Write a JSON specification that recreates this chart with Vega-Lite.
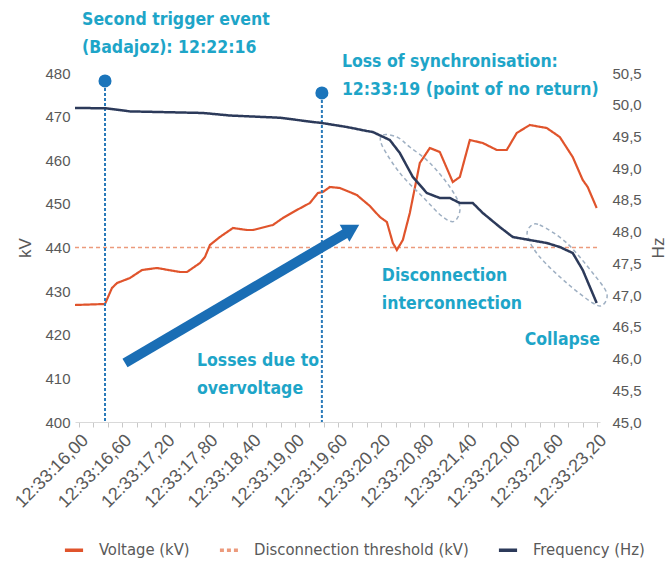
{
  "$schema": "https://vega.github.io/schema/vega-lite/v6.json",
  "width": 525,
  "height": 349,
  "autosize": {"type": "none"},
  "padding": {"left": 75, "top": 73, "right": 69, "bottom": 142},
  "background": "white",
  "config": {"view": {"stroke": null}, "font": "Liberation Sans"},
  "datasets": {
    "volt": [
      {"t": 15.944, "v": 426.82, "series": "Voltage (kV)"},
      {"t": 16.361, "v": 427.05, "series": "Voltage (kV)"},
      {"t": 16.458, "v": 430.72, "series": "Voltage (kV)"},
      {"t": 16.528, "v": 431.86, "series": "Voltage (kV)"},
      {"t": 16.708, "v": 433.01, "series": "Voltage (kV)"},
      {"t": 16.875, "v": 434.84, "series": "Voltage (kV)"},
      {"t": 17.083, "v": 435.30, "series": "Voltage (kV)"},
      {"t": 17.403, "v": 434.38, "series": "Voltage (kV)"},
      {"t": 17.5, "v": 434.38, "series": "Voltage (kV)"},
      {"t": 17.681, "v": 436.45, "series": "Voltage (kV)"},
      {"t": 17.75, "v": 437.82, "series": "Voltage (kV)"},
      {"t": 17.819, "v": 440.57, "series": "Voltage (kV)"},
      {"t": 17.958, "v": 442.41, "series": "Voltage (kV)"},
      {"t": 18.139, "v": 444.47, "series": "Voltage (kV)"},
      {"t": 18.333, "v": 444.01, "series": "Voltage (kV)"},
      {"t": 18.417, "v": 444.01, "series": "Voltage (kV)"},
      {"t": 18.694, "v": 445.16, "series": "Voltage (kV)"},
      {"t": 18.833, "v": 446.76, "series": "Voltage (kV)"},
      {"t": 19.028, "v": 448.60, "series": "Voltage (kV)"},
      {"t": 19.208, "v": 450.20, "series": "Voltage (kV)"},
      {"t": 19.319, "v": 452.49, "series": "Voltage (kV)"},
      {"t": 19.389, "v": 452.72, "series": "Voltage (kV)"},
      {"t": 19.486, "v": 453.87, "series": "Voltage (kV)"},
      {"t": 19.625, "v": 453.64, "series": "Voltage (kV)"},
      {"t": 19.861, "v": 452.03, "series": "Voltage (kV)"},
      {"t": 20.042, "v": 449.51, "series": "Voltage (kV)"},
      {"t": 20.181, "v": 446.99, "series": "Voltage (kV)"},
      {"t": 20.278, "v": 445.84, "series": "Voltage (kV)"},
      {"t": 20.361, "v": 441.03, "series": "Voltage (kV)"},
      {"t": 20.417, "v": 439.43, "series": "Voltage (kV)"},
      {"t": 20.5, "v": 441.72, "series": "Voltage (kV)"},
      {"t": 20.597, "v": 447.91, "series": "Voltage (kV)"},
      {"t": 20.736, "v": 459.37, "series": "Voltage (kV)"},
      {"t": 20.875, "v": 462.81, "series": "Voltage (kV)"},
      {"t": 21.014, "v": 461.89, "series": "Voltage (kV)"},
      {"t": 21.194, "v": 455.01, "series": "Voltage (kV)"},
      {"t": 21.292, "v": 456.16, "series": "Voltage (kV)"},
      {"t": 21.431, "v": 464.64, "series": "Voltage (kV)"},
      {"t": 21.611, "v": 463.95, "series": "Voltage (kV)"},
      {"t": 21.806, "v": 462.35, "series": "Voltage (kV)"},
      {"t": 21.944, "v": 462.35, "series": "Voltage (kV)"},
      {"t": 22.083, "v": 466.25, "series": "Voltage (kV)"},
      {"t": 22.264, "v": 468.08, "series": "Voltage (kV)"},
      {"t": 22.5, "v": 467.39, "series": "Voltage (kV)"},
      {"t": 22.681, "v": 465.33, "series": "Voltage (kV)"},
      {"t": 22.861, "v": 460.74, "series": "Voltage (kV)"},
      {"t": 23.0, "v": 455.47, "series": "Voltage (kV)"},
      {"t": 23.069, "v": 453.87, "series": "Voltage (kV)"},
      {"t": 23.194, "v": 449.05, "series": "Voltage (kV)"}
    ],
    "thr": [
      {"t": 15.944, "v": 440, "series": "Disconnection threshold (kV)"},
      {"t": 23.24, "v": 440, "series": "Disconnection threshold (kV)"}
    ],
    "hz": [
      {"t": 15.944, "f": 49.948, "series": "Frequency (Hz)"},
      {"t": 16.361, "f": 49.945, "series": "Frequency (Hz)"},
      {"t": 16.708, "f": 49.895, "series": "Frequency (Hz)"},
      {"t": 17.722, "f": 49.870, "series": "Frequency (Hz)"},
      {"t": 18.097, "f": 49.830, "series": "Frequency (Hz)"},
      {"t": 18.792, "f": 49.795, "series": "Frequency (Hz)"},
      {"t": 19.25, "f": 49.728, "series": "Frequency (Hz)"},
      {"t": 19.375, "f": 49.712, "series": "Frequency (Hz)"},
      {"t": 19.722, "f": 49.649, "series": "Frequency (Hz)"},
      {"t": 20.0, "f": 49.586, "series": "Frequency (Hz)"},
      {"t": 20.083, "f": 49.570, "series": "Frequency (Hz)"},
      {"t": 20.319, "f": 49.444, "series": "Frequency (Hz)"},
      {"t": 20.458, "f": 49.239, "series": "Frequency (Hz)"},
      {"t": 20.639, "f": 48.861, "series": "Frequency (Hz)"},
      {"t": 20.833, "f": 48.609, "series": "Frequency (Hz)"},
      {"t": 21.014, "f": 48.530, "series": "Frequency (Hz)"},
      {"t": 21.153, "f": 48.530, "series": "Frequency (Hz)"},
      {"t": 21.292, "f": 48.451, "series": "Frequency (Hz)"},
      {"t": 21.472, "f": 48.451, "series": "Frequency (Hz)"},
      {"t": 21.611, "f": 48.294, "series": "Frequency (Hz)"},
      {"t": 21.847, "f": 48.073, "series": "Frequency (Hz)"},
      {"t": 22.028, "f": 47.915, "series": "Frequency (Hz)"},
      {"t": 22.264, "f": 47.868, "series": "Frequency (Hz)"},
      {"t": 22.5, "f": 47.821, "series": "Frequency (Hz)"},
      {"t": 22.681, "f": 47.758, "series": "Frequency (Hz)"},
      {"t": 22.861, "f": 47.663, "series": "Frequency (Hz)"},
      {"t": 23.0, "f": 47.395, "series": "Frequency (Hz)"},
      {"t": 23.194, "f": 46.875, "series": "Frequency (Hz)"}
    ],
    "vlines": [
      {"t": 16.361, "v": 476.56, "v0": 400, "c": 478.17},
      {"t": 19.375, "v": 473.81, "v0": 400, "c": 475.42}
    ],
    "arrow": [
      {"t": 16.639, "v": 413.52, "t2": 19.736, "v2": 443.55, "th": 19.792, "vh": 444.24}
    ],
    "labels": [
      {"t": 16.042, "v": 492.15, "txt": "Second trigger event"},
      {"t": 16.042, "v": 485.73, "txt": "(Badajoz): 12:22:16"},
      {"t": 19.653, "v": 482.52, "txt": "Loss of synchronisation:"},
      {"t": 19.653, "v": 476.10, "txt": "12:33:19 (point of no return)"},
      {"t": 20.208, "v": 433.47, "txt": "Disconnection"},
      {"t": 20.208, "v": 427.05, "txt": "interconnection"},
      {"t": 22.194, "v": 418.80, "txt": "Collapse"},
      {"t": 17.639, "v": 413.98, "txt": "Losses due to"},
      {"t": 17.639, "v": 407.57, "txt": "overvoltage"}
    ],
    "ell": [
      {"id": 1, "k": 1, "t": 20.222, "v": 465.79},
      {"id": 1, "k": 2, "t": 20.417, "v": 465.33},
      {"id": 1, "k": 3, "t": 20.597, "v": 463.04},
      {"id": 1, "k": 4, "t": 20.875, "v": 459.37},
      {"id": 1, "k": 5, "t": 21.153, "v": 453.87},
      {"id": 1, "k": 6, "t": 21.292, "v": 449.28},
      {"id": 1, "k": 7, "t": 21.222, "v": 446.07},
      {"id": 1, "k": 8, "t": 21.056, "v": 446.99},
      {"id": 1, "k": 9, "t": 20.778, "v": 451.58},
      {"id": 1, "k": 10, "t": 20.458, "v": 457.08},
      {"id": 1, "k": 11, "t": 20.208, "v": 463.50},
      {"id": 2, "k": 1, "t": 22.264, "v": 444.70},
      {"id": 2, "k": 2, "t": 22.403, "v": 445.16},
      {"id": 2, "k": 3, "t": 22.778, "v": 441.03},
      {"id": 2, "k": 4, "t": 23.139, "v": 434.15},
      {"id": 2, "k": 5, "t": 23.333, "v": 429.57},
      {"id": 2, "k": 6, "t": 23.278, "v": 426.82},
      {"id": 2, "k": 7, "t": 23.139, "v": 427.28},
      {"id": 2, "k": 8, "t": 22.778, "v": 431.86},
      {"id": 2, "k": 9, "t": 22.403, "v": 437.82},
      {"id": 2, "k": 10, "t": 22.236, "v": 442.41}
    ]
  },
  "encoding": {
    "x": {
      "field": "t",
      "type": "quantitative",
      "scale": {"domain": [15.944, 23.24], "nice": false, "zero": false},
      "axis": {
        "values": [16.0, 16.2, 16.4, 16.6, 16.8, 17.0, 17.2, 17.4, 17.6, 17.8, 18.0, 18.2, 18.4, 18.6, 18.8, 19.0, 19.2, 19.4, 19.6, 19.8, 20.0, 20.2, 20.4, 20.6, 20.8, 21.0, 21.2, 21.4, 21.6, 21.8, 22.0, 22.2, 22.4, 22.6, 22.8, 23.0, 23.2],
        "labelExpr": "(round(datum.value*10)-160)%6==0 ? '12:33:' + replace(format(datum.value,'.2f'),'.',',') : ''",
        "labelAngle": -45,
        "labelFontSize": 18,
        "labelColor": "#595959",
        "labelOverlap": false,
        "labelBound": false,
        "labelFlush": false,
        "domainColor": "#d9d9d9",
        "tickColor": "#c8c8c8",
        "tickSize": 5,
        "grid": false,
        "title": null,
        "labelPadding": 4
      }
    }
  },
  "layer": [
    {
      "encoding": {
        "y": {
          "field": "v",
          "type": "quantitative",
          "scale": {"domain": [400, 480], "nice": false, "zero": false},
          "axis": {
            "orient": "left",
            "values": [400, 410, 420, 430, 440, 450, 460, 470, 480],
            "title": "kV",
            "titleFontSize": 17,
            "titleColor": "#595959",
            "titleFontWeight": "normal",
            "titlePadding": 10,
            "labelFontSize": 15,
            "labelColor": "#595959",
            "labelPadding": 5,
            "domain": false,
            "ticks": false,
            "grid": false
          }
        }
      },
      "layer": [
        {
          "data": {"name": "thr"},
          "mark": {"type": "line", "strokeWidth": 1.5},
          "encoding": {
            "color": {"field": "series", "type": "nominal",
              "scale": {"domain": ["Voltage (kV)", "Disconnection threshold (kV)", "Frequency (Hz)"], "range": ["#e0542c", "#ec9a7c", "#2c3a5a"]},
              "legend": {"orient": "none", "legendX": -12, "legendY": 466, "direction": "horizontal", "title": null, "symbolType": "stroke", "symbolSize": 330, "symbolStrokeWidth": 3.5, "labelFontSize": 16.5, "labelFont": "DejaVu Sans Condensed", "labelColor": "#595959", "labelLimit": 0, "columnPadding": 22, "labelOffset": 14}},
            "strokeDash": {"field": "series", "type": "nominal",
              "scale": {"domain": ["Voltage (kV)", "Disconnection threshold (kV)", "Frequency (Hz)"], "range": [[1, 0], [4, 3], [1, 0]]},
              "legend": {"orient": "none", "legendX": -12, "legendY": 466, "direction": "horizontal", "title": null, "symbolType": "stroke", "symbolSize": 330, "symbolStrokeWidth": 3.5, "labelFontSize": 16.5, "labelFont": "DejaVu Sans Condensed", "labelColor": "#595959", "labelLimit": 0, "columnPadding": 22, "labelOffset": 14}}
          }
        },
        {
          "data": {"name": "volt"},
          "mark": {"type": "line", "strokeWidth": 2.2},
          "encoding": {
            "color": {"field": "series", "type": "nominal"},
            "strokeDash": {"field": "series", "type": "nominal"}
          }
        },
        {
          "data": {"name": "vlines"},
          "mark": {"type": "rule", "color": "#2a7ab9", "strokeWidth": 2, "strokeDash": [3, 2]},
          "encoding": {"y2": {"field": "v0"}}
        },
        {
          "data": {"name": "vlines"},
          "mark": {"type": "point", "shape": "circle", "filled": true, "size": 170, "color": "#1b75bb", "opacity": 1, "clip": false},
          "encoding": {"y": {"field": "c", "type": "quantitative"}}
        },
        {
          "data": {"name": "arrow"},
          "mark": {"type": "rule", "color": "#1a6eb5", "strokeWidth": 10, "strokeCap": "butt"},
          "encoding": {"x2": {"field": "t2"}, "y2": {"field": "v2"}}
        },
        {
          "data": {"name": "arrow"},
          "mark": {"type": "point", "shape": "triangle-up", "filled": true, "size": 380, "color": "#1a6eb5", "opacity": 1, "angle": 60},
          "encoding": {"x": {"field": "th", "type": "quantitative"}, "y": {"field": "vh", "type": "quantitative"}}
        },
        {
          "data": {"name": "ell"},
          "mark": {"type": "line", "interpolate": "cardinal-closed", "color": "#9fb0c3", "strokeWidth": 1.5, "strokeDash": [4, 3], "clip": false},
          "encoding": {"detail": {"field": "id"}, "order": {"field": "k", "type": "quantitative"}}
        },
        {
          "data": {"name": "labels"},
          "mark": {"type": "text", "align": "left", "baseline": "middle", "font": "DejaVu Sans Condensed", "fontWeight": "bold", "fontSize": 17.5, "color": "#1ea5c8", "clip": false},
          "encoding": {"text": {"field": "txt"}}
        }
      ]
    },
    {
      "data": {"name": "hz"},
      "mark": {"type": "line", "strokeWidth": 2.5},
      "encoding": {
        "y": {
          "field": "f",
          "type": "quantitative",
          "scale": {"domain": [45, 50.5], "nice": false, "zero": false},
          "axis": {
            "orient": "right",
            "values": [45, 45.5, 46, 46.5, 47, 47.5, 48, 48.5, 49, 49.5, 50, 50.5],
            "labelExpr": "replace(format(datum.value,'.1f'),'.',',')",
            "title": "Hz",
            "titleAngle": 270,
            "titleFontSize": 17,
            "titleColor": "#595959",
            "titleFontWeight": "normal",
            "titlePadding": 26,
            "labelFontSize": 15,
            "labelColor": "#595959",
            "labelPadding": 12,
            "domain": false,
            "ticks": false,
            "grid": false
          }
        },
        "color": {"field": "series", "type": "nominal"},
        "strokeDash": {"field": "series", "type": "nominal"}
      }
    }
  ],
  "resolve": {"scale": {"y": "independent"}}
}
